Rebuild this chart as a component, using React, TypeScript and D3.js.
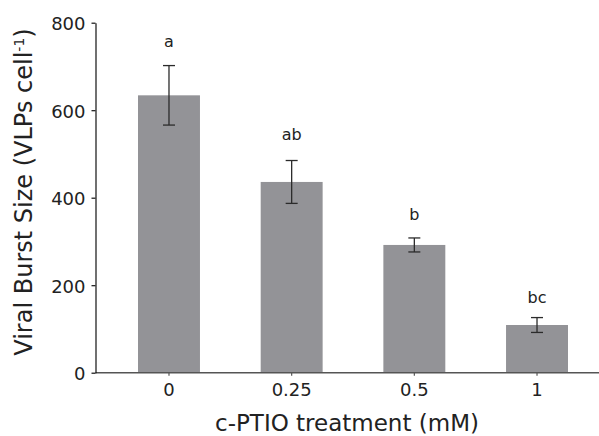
import React, { useEffect, useRef } from "react";
import * as d3 from "d3";

const WIDTH = 599;
const HEIGHT = 436;
const MARGINS = { LEFT: 95.5, RIGHT: 0.5, TOP: 22.7, BOTTOM: 63.3 };
const FONT = "'DejaVu Sans', 'Liberation Sans', Arial, sans-serif";

const categories = ["0", "0.25", "0.5", "1"];
const means = [634, 436, 292, 109];
const errors = [68, 49, 16, 17];
const letters = ["a", "ab", "b", "bc"];
const letterLevels = [745, 532, 349, 160];
const yTicks = [0, 200, 400, 600, 800];

const App: React.FC = () => {
  const gRef = useRef<SVGGElement | null>(null);

  useEffect(() => {
    const g = d3.select(gRef.current);
    g.selectAll("*").remove();

    const plotH = HEIGHT - MARGINS.TOP - MARGINS.BOTTOM;

    const y = d3.scaleLinear().domain([0, 800]).range([plotH, 0]);
    // bars centred at ~169, 292, 414, 537 in page coords
    const x = d3
      .scaleBand<string>()
      .domain(categories)
      .range([107.65 - MARGINS.LEFT, 598.35 - MARGINS.LEFT])
      .paddingInner(0.495)
      .paddingOuter(0.2475);

    const rows = categories.map((c, i) => ({
      cat: c,
      mean: means[i],
      err: errors[i],
      letter: letters[i],
      level: letterLevels[i],
    }));

    // bars
    g.append("g")
      .selectAll("rect")
      .data(rows)
      .join("rect")
      .attr("x", (d) => x(d.cat)!)
      .attr("y", (d) => y(d.mean))
      .attr("width", x.bandwidth())
      .attr("height", (d) => plotH - y(d.mean))
      .attr("fill", "#939397");

    // error bars
    const capW = 12;
    const eb = g.append("g").attr("stroke", "#2b2b2b").attr("stroke-width", 1.3);
    rows.forEach((d) => {
      const cx = x(d.cat)! + x.bandwidth() / 2;
      eb.append("line")
        .attr("x1", cx).attr("x2", cx)
        .attr("y1", y(d.mean + d.err)).attr("y2", y(d.mean - d.err));
      eb.append("line")
        .attr("x1", cx - capW / 2).attr("x2", cx + capW / 2)
        .attr("y1", y(d.mean + d.err)).attr("y2", y(d.mean + d.err));
      eb.append("line")
        .attr("x1", cx - capW / 2).attr("x2", cx + capW / 2)
        .attr("y1", y(d.mean - d.err)).attr("y2", y(d.mean - d.err));
    });

    // significance letters
    g.append("g")
      .selectAll("text")
      .data(rows)
      .join("text")
      .attr("x", (d) => x(d.cat)! + x.bandwidth() / 2)
      .attr("y", (d) => y(d.level))
      .attr("text-anchor", "middle")
      .attr("font-family", FONT)
      .attr("font-size", 16)
      .attr("fill", "#222")
      .text((d) => d.letter);

    // x axis
    const xAxis = g
      .append("g")
      .attr("transform", `translate(0, ${plotH})`)
      .call(d3.axisBottom(x).tickSize(3).tickPadding(7.5).tickSizeOuter(0) as any);
    xAxis.select(".domain").remove();
    xAxis.selectAll(".tick line").attr("stroke", "#555").attr("stroke-width", 1.2);
    xAxis
      .selectAll(".tick text")
      .attr("font-family", FONT)
      .attr("font-size", 18)
      .attr("fill", "#222");
    xAxis
      .append("line")
      .attr("x1", 0)
      .attr("x2", WIDTH - MARGINS.LEFT)
      .attr("y1", 0)
      .attr("y2", 0)
      .attr("stroke", "#555")
      .attr("stroke-width", 1.5);

    // y axis
    const yAxis = g
      .append("g")
      .call(d3.axisLeft(y).tickValues(yTicks).tickSize(4).tickPadding(6).tickSizeOuter(0) as any);
    yAxis.select(".domain").attr("stroke", "#111").attr("stroke-width", 1.2);
    yAxis.selectAll(".tick line").attr("stroke", "#111").attr("stroke-width", 1.2);
    yAxis
      .selectAll(".tick text")
      .attr("font-family", FONT)
      .attr("font-size", 18)
      .attr("dy", "0.38em")
      .attr("fill", "#222");

    // axis titles
    g.append("text")
      .attr("x", 347 - MARGINS.LEFT)
      .attr("y", 431 - MARGINS.TOP)
      .attr("text-anchor", "middle")
      .attr("font-family", FONT)
      .attr("font-size", 23)
      .attr("fill", "#222")
      .text("c-PTIO treatment (mM)");

    const yt = g
      .append("text")
      .attr("transform", `translate(${32 - MARGINS.LEFT}, ${192 - MARGINS.TOP}) rotate(-90)`)
      .attr("text-anchor", "middle")
      .attr("font-family", FONT)
      .attr("font-size", 24)
      .attr("fill", "#222");
    yt.append("tspan").text("Viral Burst Size (VLPs cell");
    yt.append("tspan").attr("font-size", 14).attr("dy", "-0.6em").text("-1");
    yt.append("tspan").attr("dy", "0.35em").text(")");
  }, []);

  return (
    <svg
      width={WIDTH}
      height={HEIGHT}
      style={{ position: "absolute", left: 0, top: 0, background: "#fff" }}
    >
      <g ref={gRef} transform={`translate(${MARGINS.LEFT}, ${MARGINS.TOP})`} />
    </svg>
  );
};

export default App;
